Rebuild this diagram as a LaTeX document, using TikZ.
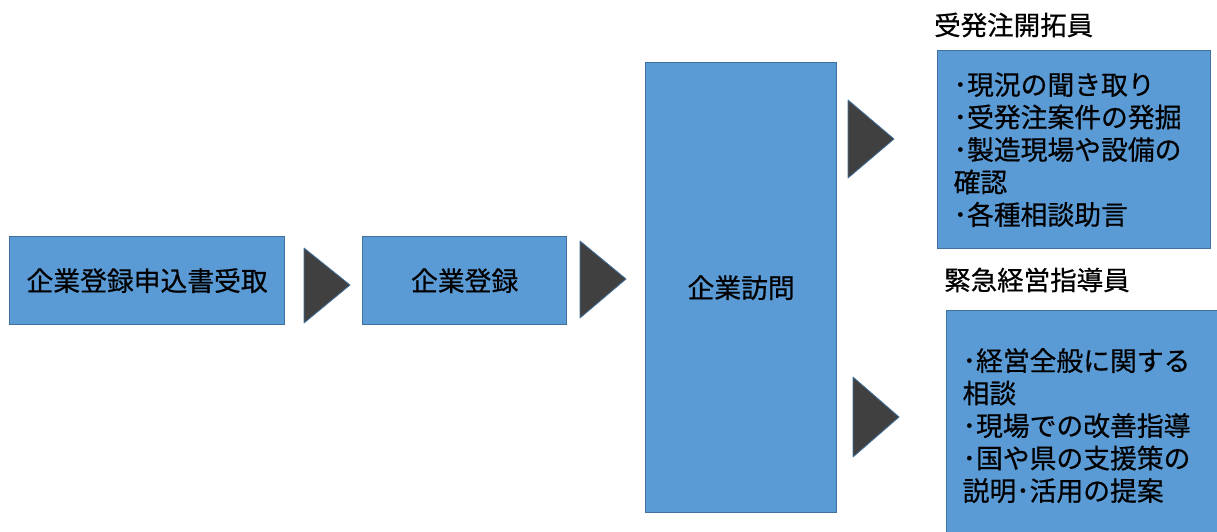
\documentclass[tikz,border=0pt]{standalone}
\usepackage{fontspec}
\setmainfont{Noto Sans CJK JP}[FakeBold=0.6]
\definecolor{boxfill}{HTML}{5B9BD5}
\definecolor{boxline}{HTML}{41719C}
\definecolor{tridark}{HTML}{404040}
\begin{document}
\begin{tikzpicture}[x=1pt,y=-1pt,
  box/.style={draw=boxline, fill=boxfill, line width=1.3pt, inner sep=0pt, anchor=north west,
    font=\fontsize{26.8}{32.5}\selectfont},
  listbox/.style={box, inner xsep=16pt, align=left},
  lbl/.style={anchor=west, inner sep=0pt, font=\fontsize{26.5}{32}\selectfont},
  tri/.style={fill=tridark, draw=boxline, line width=0.8pt, line join=round}]
\useasboundingbox (0,0) rectangle (1217,532);
\clip (0,0) rectangle (1217,532);
\node[box, minimum width=275pt, minimum height=88pt] (b1) at (9,236) {企業登録申込書受取};
\node[box, minimum width=204pt, minimum height=88pt] (b2) at (362,236) {企業登録};
\node[box, minimum width=191pt, minimum height=450pt] (b3) at (645,62) {企業訪問};
\node[listbox, text width=241pt, minimum height=198pt] (b4) at (937,50)
  {･現況の聞き取り\\･受発注案件の発掘\\･製造現場や設備の\\確認\\･各種相談助言};
\node[listbox, text width=250pt, minimum height=230pt] (b5) at (946,310)
  {･経営全般に関する\\相談\\･現場での改善指導\\･国や県の支援策の\\説明･活用の提案};
\node[lbl] (l4) at (934,25) {受発注開拓員};
\node[lbl] (l5) at (944,280) {緊急経営指導員};
\path[tri] (304,248) -- (350,285) -- (304,323) -- cycle;
\path[tri] (580,241) -- (626,279) -- (580,318) -- cycle;
\path[tri] (848,100) -- (894,139) -- (848,178) -- cycle;
\path[tri] (853,377) -- (899,417) -- (853,457) -- cycle;
\end{tikzpicture}
\end{document}
